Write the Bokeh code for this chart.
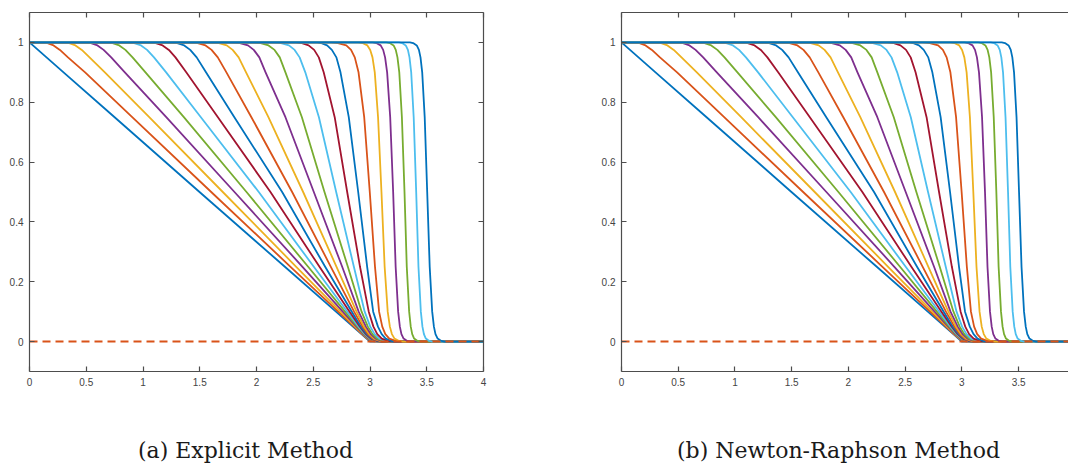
from bokeh.plotting import figure
from bokeh.layouts import row, column
from bokeh.models import LinearAxis, FixedTicker, Label, Range1d
from bokeh.embed import file_html
from bokeh.resources import INLINE

# ---------------- data ----------------
# y-levels at which each curve's x position was read
LEVELS = [1.0, 0.998, 0.99, 0.975, 0.95, 0.9, 0.75, 0.5,
          0.25, 0.1, 0.05, 0.025, 0.01, 0.002, 0.0]
X_LEFT = 0.0      # every curve starts at (0, 1)
X_RIGHT = 4.0     # every curve ends at (4, 0)

# x position of each snapshot curve at the LEVELS above
FRONT_X = [
    [0.000, 0.006, 0.030, 0.075, 0.150, 0.300, 0.750, 1.498, 2.250, 2.700, 2.850, 2.925, 2.970, 2.994, 3.000],
    [0.065, 0.153, 0.212, 0.268, 0.339, 0.490, 0.905, 1.601, 2.300, 2.720, 2.860, 2.930, 2.977, 3.021, 3.085],
    [0.255, 0.344, 0.405, 0.461, 0.529, 0.664, 1.055, 1.703, 2.350, 2.740, 2.870, 2.935, 2.982, 3.028, 3.095],
    [0.445, 0.536, 0.599, 0.653, 0.720, 0.840, 1.205, 1.806, 2.405, 2.760, 2.880, 2.940, 2.987, 3.034, 3.105],
    [0.635, 0.726, 0.791, 0.845, 0.908, 1.022, 1.360, 1.912, 2.455, 2.780, 2.890, 2.948, 2.994, 3.042, 3.115],
    [0.825, 0.916, 0.983, 1.036, 1.097, 1.204, 1.510, 2.020, 2.505, 2.800, 2.900, 2.955, 3.000, 3.051, 3.125],
    [1.015, 1.106, 1.173, 1.228, 1.286, 1.381, 1.660, 2.123, 2.555, 2.820, 2.911, 2.963, 3.007, 3.060, 3.135],
    [1.205, 1.295, 1.363, 1.416, 1.473, 1.555, 1.805, 2.226, 2.605, 2.840, 2.920, 2.972, 3.016, 3.071, 3.145],
    [1.395, 1.482, 1.551, 1.604, 1.659, 1.735, 1.955, 2.314, 2.655, 2.860, 2.935, 2.981, 3.025, 3.081, 3.155],
    [1.585, 1.669, 1.738, 1.790, 1.843, 1.908, 2.105, 2.411, 2.705, 2.881, 2.948, 2.993, 3.037, 3.093, 3.165],
    [1.775, 1.854, 1.925, 1.976, 2.025, 2.080, 2.255, 2.505, 2.755, 2.900, 2.964, 3.006, 3.050, 3.105, 3.175],
    [1.965, 2.037, 2.106, 2.159, 2.205, 2.255, 2.400, 2.599, 2.805, 2.926, 2.981, 3.022, 3.063, 3.121, 3.185],
    [2.155, 2.216, 2.286, 2.336, 2.380, 2.430, 2.550, 2.702, 2.858, 2.953, 3.002, 3.041, 3.082, 3.139, 3.200],
    [2.345, 2.394, 2.459, 2.508, 2.549, 2.592, 2.689, 2.799, 2.912, 2.989, 3.030, 3.064, 3.104, 3.160, 3.215],
    [2.535, 2.567, 2.622, 2.664, 2.704, 2.740, 2.813, 2.896, 2.975, 3.028, 3.070, 3.103, 3.138, 3.189, 3.240],
    [2.656, 2.718, 2.791, 2.833, 2.866, 2.899, 2.949, 2.998, 3.044, 3.080, 3.108, 3.135, 3.170, 3.231, 3.283],
    [2.896, 2.933, 2.977, 3.002, 3.022, 3.042, 3.071, 3.101, 3.129, 3.156, 3.175, 3.193, 3.216, 3.256, 3.291],
    [3.022, 3.055, 3.094, 3.116, 3.133, 3.151, 3.178, 3.204, 3.226, 3.248, 3.263, 3.277, 3.296, 3.328, 3.356],
    [3.144, 3.174, 3.208, 3.227, 3.242, 3.258, 3.281, 3.304, 3.324, 3.345, 3.359, 3.372, 3.389, 3.419, 3.445],
    [3.255, 3.283, 3.315, 3.334, 3.348, 3.363, 3.385, 3.407, 3.427, 3.448, 3.462, 3.475, 3.492, 3.522, 3.548],
    [3.352, 3.380, 3.412, 3.431, 3.445, 3.460, 3.482, 3.504, 3.526, 3.548, 3.563, 3.577, 3.596, 3.628, 3.656],
]

_B, _O, _Y, _P, _G, _L, _R = ("#0072BD", "#D95319", "#EDB120", "#7E2F8E",
                              "#77AC30", "#4DBEEE", "#A2142F")
CURVE_COLORS = [_B, _O, _Y, _P, _G, _L, _R,
                _B, _O, _Y, _P, _G, _L, _R,
                _B, _O, _Y, _P, _G, _L, _B]

ZERO_LINE_X = [0.0, 4.0]
ZERO_LINE_Y = [0.0, 0.0]
ZERO_LINE_COLOR = "#D95319"

X_TICKS_A = [0, 0.5, 1, 1.5, 2, 2.5, 3, 3.5, 4]
X_TICKS_B = [0, 0.5, 1, 1.5, 2, 2.5, 3, 3.5]
X_TICK_LABELS = {0: "0", 0.5: "0.5", 1: "1", 1.5: "1.5", 2: "2",
                 2.5: "2.5", 3: "3", 3.5: "3.5", 4: "4"}
Y_TICKS = [0, 0.2, 0.4, 0.6, 0.8, 1]
Y_TICK_LABELS = {0: "0", 0.2: "0.2", 0.4: "0.4", 0.6: "0.6", 0.8: "0.8", 1: "1"}

CAPTIONS = ["(a) Explicit Method", "(b) Newton-Raphson Method"]
X_END_A = 4.0
X_END_B = 3.94
Y_RANGE = (-0.1, 1.1)

AXIS_COLOR = "#4d4d4d"
LABEL_COLOR = "#444444"

PANEL_W = 534
TOTAL_W = 1068
PLOT_H = 434
CAPTION_H = 30


def style_axis(ax, show_labels):
    ax.axis_line_color = AXIS_COLOR
    ax.axis_line_width = 1.2
    ax.major_tick_line_color = AXIS_COLOR
    ax.major_tick_line_width = 1.2
    ax.major_tick_in = 5
    ax.major_tick_out = 0
    ax.minor_tick_in = 0
    ax.minor_tick_out = 0
    ax.major_label_standoff = 6
    ax.major_label_text_font = "Liberation Sans"
    ax.major_label_text_color = LABEL_COLOR
    ax.major_label_text_font_size = "10px" if show_labels else "0px"
    if not show_labels:
        ax.major_label_text_alpha = 0


def make_panel(x_end, x_ticks, border_left, border_right, right_axis):
    p = figure(width=PANEL_W, height=PLOT_H,
               x_range=Range1d(0, x_end), y_range=Range1d(*Y_RANGE),
               output_backend="svg", toolbar_location=None,
               x_axis_location=None, y_axis_location=None,
               min_border_left=border_left, min_border_right=border_right,
               min_border_top=12, min_border_bottom=63)
    p.grid.visible = False
    p.outline_line_color = None
    p.background_fill_color = "white"
    p.border_fill_color = "white"

    for i, xs in enumerate(FRONT_X):
        px = [X_LEFT] + list(xs) + [X_RIGHT]
        py = [1.0] + LEVELS + [0.0]
        p.line(px, py, line_color=CURVE_COLORS[i], line_width=1.8,
               line_join="round", line_cap="round")

    p.line(ZERO_LINE_X, ZERO_LINE_Y, line_color=ZERO_LINE_COLOR,
           line_width=2, line_dash="8 5")

    bottom = LinearAxis(ticker=FixedTicker(ticks=x_ticks),
                        major_label_overrides=X_TICK_LABELS)
    style_axis(bottom, True)
    p.add_layout(bottom, "below")

    top = LinearAxis(ticker=FixedTicker(ticks=x_ticks))
    style_axis(top, False)
    p.add_layout(top, "above")

    left = LinearAxis(ticker=FixedTicker(ticks=Y_TICKS),
                      major_label_overrides=Y_TICK_LABELS)
    style_axis(left, True)
    p.add_layout(left, "left")

    if right_axis:
        right = LinearAxis(ticker=FixedTicker(ticks=Y_TICKS))
        style_axis(right, False)
        p.add_layout(right, "right")
    return p


p1 = make_panel(X_END_A, X_TICKS_A, 29, 51, True)
p2 = make_panel(X_END_B, X_TICKS_B, 87, 0, False)

# caption strip spanning both panels (screen-like units: 1 unit = 1 px)
cap = figure(width=TOTAL_W, height=CAPTION_H,
             x_range=Range1d(0, TOTAL_W), y_range=Range1d(0, CAPTION_H),
             output_backend="svg", toolbar_location=None,
             x_axis_location=None, y_axis_location=None, min_border=0)
cap.grid.visible = False
cap.outline_line_color = None
cap.background_fill_color = "white"
cap.border_fill_color = "white"
for text, cx in zip(CAPTIONS, [245, 838]):
    cap.add_layout(Label(x=cx, y=CAPTION_H / 2 - 1, text=text,
                         text_align="center", text_baseline="middle",
                         text_font="DejaVu Serif", text_font_size="22px",
                         text_color="#1a1a1a"))

layout = column(row(p1, p2, spacing=0), cap, spacing=0)
open("out.html", "w").write(file_html(layout, INLINE))
